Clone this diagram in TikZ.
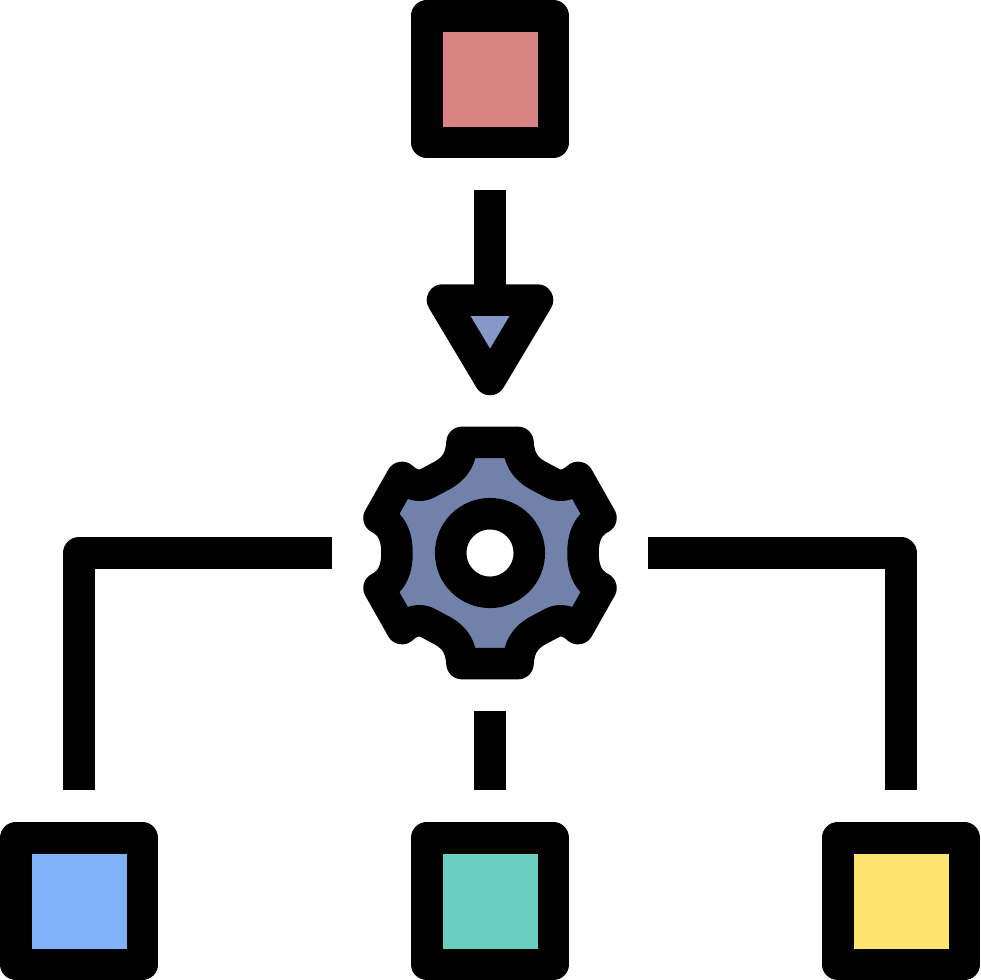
\documentclass[tikz,border=0pt]{standalone}
\definecolor{cred}{HTML}{D98385}
\definecolor{cblue}{HTML}{7FB2F8}
\definecolor{cteal}{HTML}{6ACEBF}
\definecolor{cyellow}{HTML}{FFE570}
\definecolor{cgear}{HTML}{7082A9}
\definecolor{carrow}{HTML}{8598C8}
\tikzset{
  sq/.style={draw=black,line width=31.5pt,line join=round,minimum size=126.5pt,inner sep=0pt,outer sep=0pt,shape=rectangle},
  wire/.style={draw=black,line width=31.5pt,line join=round,line cap=butt},
  shp/.style={draw=black,line width=31.5pt,line join=round}
}
\begin{document}
\begin{tikzpicture}[x=1pt,y=-1pt]
\useasboundingbox (0,0) rectangle (980,980);
\node[sq,fill=cred] (top) at (490,79) {};
\node[sq,fill=cblue] (bl) at (79,901) {};
\node[sq,fill=cteal] (bm) at (490,901) {};
\node[sq,fill=cyellow] (br) at (901,901) {};
\coordinate (gc) at (490,553);
\coordinate (a1) at (490,190);
\coordinate (a2) at (490,300);
\coordinate (l1) at (332,553);
\coordinate (lc) at (79,553);
\coordinate (l2) at (79,790);
\coordinate (r1) at (648,553);
\coordinate (rc) at (901,553);
\coordinate (r2) at (901,790);
\coordinate (m1) at (490,711);
\coordinate (m2) at (490,790);
\draw[wire] (a1) -- (a2);
\draw[wire] (l1) -- (lc) -- (l2);
\draw[wire] (r1) -- (rc) -- (r2);
\draw[wire] (m1) -- (m2);
\draw[shp,fill=carrow] (442.5,300) -- (537.5,300) -- (490,379.5) -- cycle;
\begin{scope}[shift={(gc)}]
\draw[shp,fill=cgear]
 (-28,-110.6) -- (28,-110.6)
 .. controls (29,-94) and (35,-85) .. (47,-78)
 -- (62,-70) .. controls (69,-66) and (79,-67) .. (88,-75.6)
 -- (111,-35)
 .. controls (97,-28) and (93,-15) .. (93,0)
 .. controls (93,15) and (97,28) .. (111,35)
 -- (88,75.6) .. controls (79,67) and (69,66) .. (62,70)
 -- (47,78) .. controls (35,85) and (29,94) .. (28,110.6)
 -- (-28,110.6)
 .. controls (-29,94) and (-35,85) .. (-47,78)
 -- (-62,70) .. controls (-69,66) and (-79,67) .. (-88,75.6)
 -- (-111,35)
 .. controls (-97,28) and (-93,15) .. (-93,0)
 .. controls (-93,-15) and (-97,-28) .. (-111,-35)
 -- (-88,-75.6) .. controls (-79,-67) and (-69,-66) .. (-62,-70)
 -- (-47,-78) .. controls (-35,-85) and (-29,-94) .. (-28,-110.6)
 -- cycle;
\draw[draw=black,line width=31.5pt,fill=white] (0,0) circle[radius=39.3];
\end{scope}
\end{tikzpicture}
\end{document}
